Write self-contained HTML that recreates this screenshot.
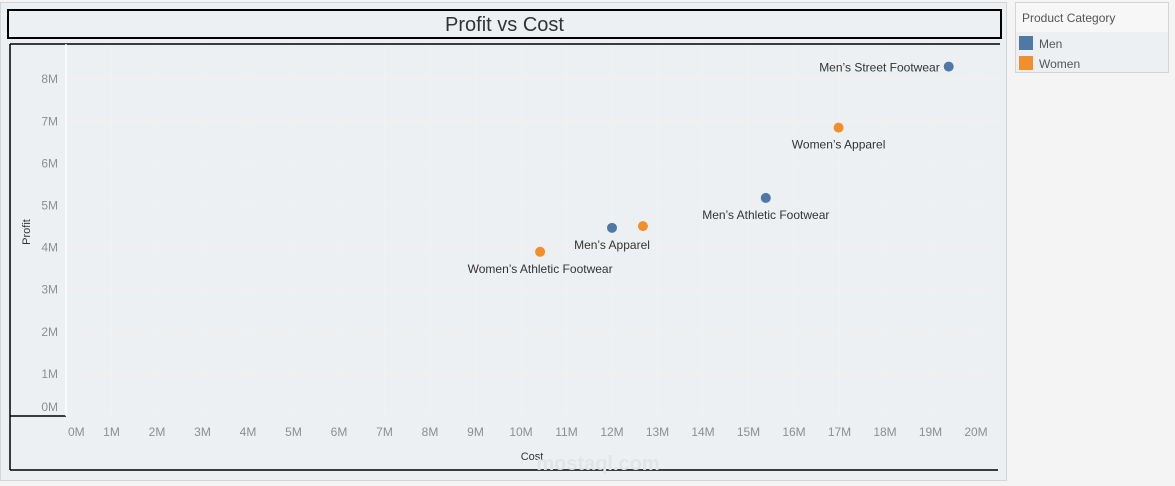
<!DOCTYPE html>
<html><head><meta charset="utf-8"><style>
body{margin:0;width:1175px;height:486px;background:#f4f4f4;font-family:"Liberation Sans",sans-serif;overflow:hidden;position:relative}
.abs{position:absolute}
</style></head><body>
<div class="abs" style="left:0;top:2px;width:1007px;height:479px;background:#edf0f3;border:1px solid #d4d4d4;box-sizing:border-box"></div>
<div class="abs" style="left:7px;top:9px;width:995px;height:30px;border:2px solid #000;box-sizing:border-box;text-align:center;font-size:20px;line-height:29px;color:#333">Profit vs Cost</div>
<div class="abs" style="left:1015px;top:2px;width:154px;height:71px;border:1px solid #d4d4d4;box-sizing:border-box;background:#edf0f3">
 <div style="background:#f7f7f7;height:29px;font-size:12px;color:#555;padding:8px 0 0 6px;box-sizing:border-box">Product Category</div>
 <div style="position:absolute;left:3px;top:33px;font-size:12px;color:#555"><span style="display:inline-block;width:14px;height:14px;background:#4e79a7;vertical-align:-2px;margin-right:6px"></span>Men</div>
 <div style="position:absolute;left:3px;top:53px;font-size:12px;color:#555"><span style="display:inline-block;width:14px;height:14px;background:#f28e2b;vertical-align:-2px;margin-right:6px"></span>Women</div>
</div>
<svg id="chart" class="abs" style="left:0;top:0" width="1008" height="486"></svg>
<script>
const names=["Men's Street Footwear","Women's Apparel","Men's Athletic Footwear","Men's Apparel","Women's Street Footwear","Women's Athletic Footwear"];
const groups=["Men","Women","Men","Men","Women","Women"];
const costs=[19.4,16.98,15.38,12.0,12.68,10.42];
const profits=[8.3,6.85,5.18,4.47,4.51,3.9];
const showLabel=[true,true,true,true,false,true];
const labelPos=["left","below","below","below","none","below"];
const xTicks=[0,1,2,3,4,5,6,7,8,9,10,11,12,13,14,15,16,17,18,19,20];
const yTicks=[0,1,2,3,4,5,6,7,8];
const colors={Men:"#4e79a7",Women:"#f28e2b"};
const svg=document.getElementById('chart');
const NS="http://www.w3.org/2000/svg";
const X=v=>66+v*45.5, Y=v=>416-v*42.1;
function mk(t,a,txt){const e=document.createElementNS(NS,t);for(const k in a)e.setAttribute(k,a[k]);if(txt!=null)e.textContent=txt;svg.appendChild(e);return e;}
xTicks.forEach(t=>{const g=mk('line',{x1:X(t),x2:X(t),y1:44,y2:416,stroke:'#f3f0ee','stroke-width':1});

});
yTicks.forEach(t=>{const g=mk('line',{x1:66,x2:1000,y1:Y(t),y2:Y(t),stroke:'#f3f0ee','stroke-width':1});

});
[[10,44,1000,44],[10,44,10,470],[10,470,998,470],[10,416,66,416]].forEach(l=>{const e=mk('line',{x1:l[0],y1:l[1],x2:l[2],y2:l[3],stroke:'#000','stroke-width':1.5});

});
const ax=mk('line',{x1:66,x2:66,y1:44,y2:416,stroke:'#fff','stroke-width':1.5});


xTicks.forEach(t=>{const e=mk('text',t===0?{x:68,y:436,'text-anchor':'start'}:{x:X(t),y:436,'text-anchor':'middle'},t+'M');
e.setAttribute('font-size',12);e.setAttribute('fill','#8e8e8e');

});
yTicks.forEach(t=>{const e=mk('text',{x:58,y:(t===0?Y(t)-9:Y(t))+4,'font-size':12,fill:'#8e8e8e','text-anchor':'end'},t+'M');

});
const xt=mk('text',{x:532,y:460,'font-size':11,fill:'#333','text-anchor':'middle'},'Cost');


const yt=mk('text',{x:30,y:232,'font-size':11,fill:'#333','text-anchor':'middle',transform:'rotate(-90 30 232)'},'Profit');


const wm=mk('text',{x:598,y:470,'font-size':20,fill:'#e2e4e6','text-anchor':'middle','font-weight':'bold'},'mostaql.com');


costs.forEach((c,i)=>{const cx=X(c),cy=Y(profits[i]);
const p=mk('circle',{cx:cx,cy:cy,r:5,fill:colors[groups[i]]});


if(showLabel[i]){let a;
if(labelPos[i]==='left')a={x:cx-9,y:cy+5,'text-anchor':'end'};else a={x:cx,y:cy+21,'text-anchor':'middle'};
a['font-size']=12;a.fill='#333';
const l=mk('text',a,names[i].replace("'","’"));

}
});
</script>
</body></html>
